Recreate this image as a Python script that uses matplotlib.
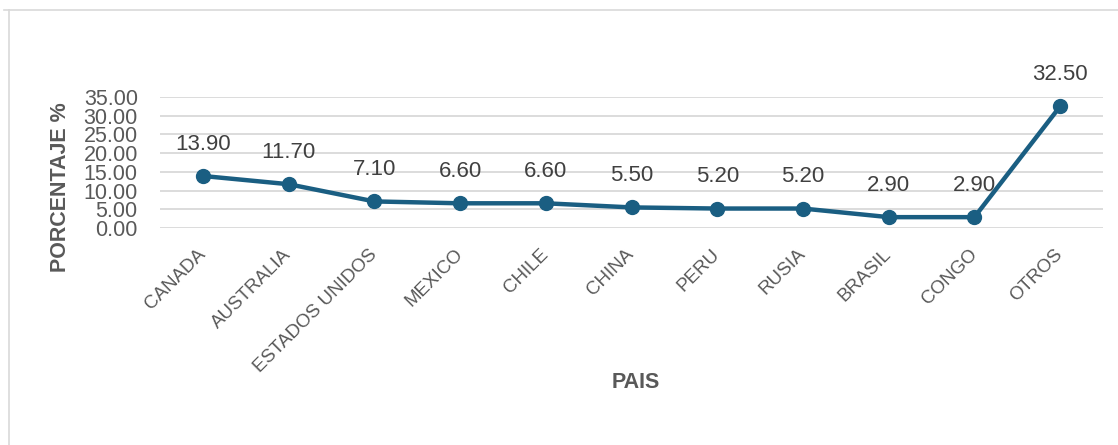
import matplotlib
matplotlib.use("Agg")
import matplotlib.pyplot as plt
from matplotlib.lines import Line2D

plt.rcParams['font.family'] = ['Liberation Sans', 'DejaVu Sans']

paises = ["CANADA", "AUSTRALIA", "ESTADOS UNIDOS", "MEXICO", "CHILE", "CHINA",
          "PERU", "RUSIA", "BRASIL", "CONGO", "OTROS"]
porcentaje = [13.90, 11.70, 7.10, 6.60, 6.60, 5.50, 5.20, 5.20, 2.90, 2.90, 32.50]
y_ticks = [0, 5, 10, 15, 20, 25, 30, 35]

W, H = 1118, 445
fig = plt.figure(figsize=(W / 100, H / 100), dpi=100)
fig.patch.set_facecolor("white")

left, right = 160 / W, 1103 / W
bottom, top = 1 - 228 / H, 1 - 97 / H
ax = fig.add_axes([left, bottom, right - left, top - bottom])

x = list(range(len(paises)))
line_color = "#1a5e82"
ax.plot(x, porcentaje, color=line_color, linewidth=3.2, marker="o",
        markersize=10, zorder=3, solid_capstyle="round")

for xi, v in zip(x, porcentaje):
    ax.annotate(f"{v:.2f}", (xi, v), xytext=(0, 23), textcoords="offset points",
                ha="center", va="center", fontsize=16, color="#404040")

ax.set_xlim(-0.5, len(paises) - 0.5)
ax.set_ylim(0, 35)
ax.set_yticks(y_ticks)
ax.set_yticklabels([f"{t:.2f}" for t in y_ticks], fontsize=15.5, color="#595959")
ax.grid(axis="y", color="#d9d9d9", linewidth=1.3)
ax.set_axisbelow(True)
ax.tick_params(axis="y", length=0, pad=16)
ax.tick_params(axis="x", length=0, pad=17)
ax.set_xticks(x)
ax.set_xticklabels(paises, rotation=45, ha="right", va="center",
                   rotation_mode="anchor", fontsize=13.5, color="#595959")
for s in ax.spines.values():
    s.set_visible(False)

fig.text(60 / W, 1 - 187 / H, "PORCENTAJE %", rotation=90, ha="center", va="center",
         fontsize=15.5, fontweight="bold", color="#595959")
fig.text(636 / W, 1 - 383 / H, "PAIS", ha="center", va="center",
         fontsize=15.5, fontweight="bold", color="#595959")

# chart frame (top and left edges)
fig.add_artist(Line2D([4 / W, 1], [1 - 9.5 / H, 1 - 9.5 / H], color="#d9d9d9",
                      linewidth=1.2, transform=fig.transFigure))
fig.add_artist(Line2D([8.5 / W, 8.5 / W], [0, 1 - 9.5 / H], color="#d9d9d9",
                      linewidth=1.2, transform=fig.transFigure))

fig.savefig("out.png", dpi=100, facecolor="white")
